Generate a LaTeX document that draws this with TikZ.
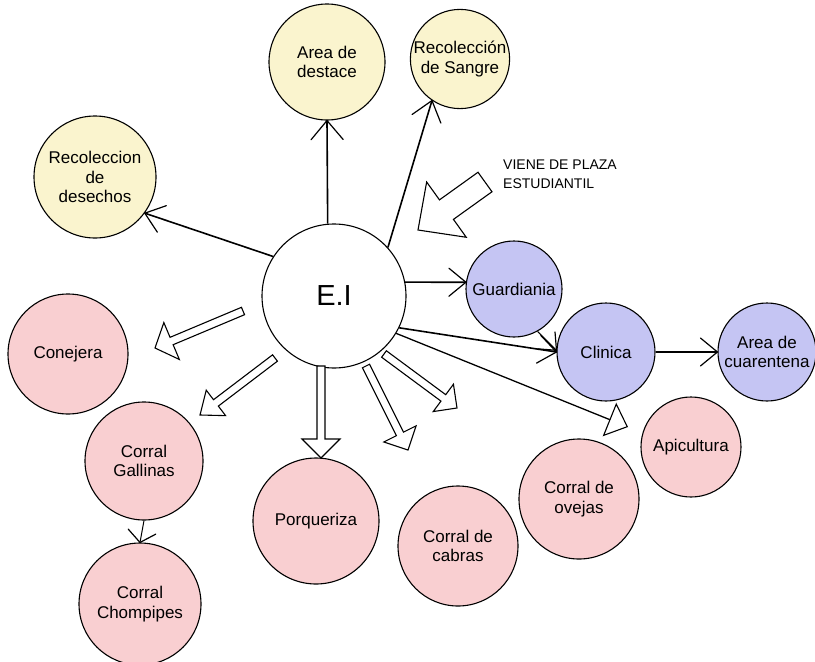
\documentclass[tikz,border=0pt]{standalone}
\usepackage{fontspec}
\setmainfont{Liberation Sans}
\usetikzlibrary{arrows.meta,calc}
\definecolor{ylw}{HTML}{FAF4CE}
\definecolor{blu}{HTML}{C5C5F3}
\definecolor{pnk}{HTML}{F9CFD1}
\tikzset{
  circ/.style={circle, draw=black, line width=1.1pt, inner sep=0pt, align=center,
    font=\fontsize{17}{19.5}\selectfont},
  yl/.style={circ, fill=ylw},
  bl/.style={circ, fill=blu},
  pk/.style={circ, fill=pnk},
  conn/.style={line width=1.6pt},
  thinconn/.style={line width=1pt},
  barbline/.style={line width=1.2pt, line cap=round},
  harrow/.style={line width=1.1pt, line join=miter, fill=white},
}
\newcommand{\barbarr}[5]{% #1 style, #2 from, #3 to, #4 barb length, #5 barb half width
  \draw[#1] (#2) -- (#3);
  \coordinate (bc) at ($(#3)!#4!(#2)$);
  \draw[barbline] ($(bc)!#5!90:(#3)$) -- (#3) -- ($(bc)!#5!-90:(#3)$);}
\newcommand{\hollowarr}[5]{% #1 shaft half, #2 head half, #3 head length, #4 tail, #5 tip
  \coordinate (hc) at ($(#5)!#3!(#4)$);
  \draw[harrow] ($(#4)!#1!90:(#5)$) -- ($(hc)!#1!-90:(#4)$) -- ($(hc)!#2!-90:(#4)$) -- (#5)
    -- ($(hc)!#2!90:(#4)$) -- ($(hc)!#1!90:(#4)$) -- ($(#4)!#1!-90:(#5)$) -- cycle;}
\begin{document}
\begin{tikzpicture}[x=1pt,y=-1pt]
\path[use as bounding box, fill=white] (0,0) rectangle (815,662);
% nodes
\node[yl, minimum size=116pt] (destace) at (327,62) {Area de\\destace};
\node[yl, minimum size=92pt] (sangre) at (460,59) {Recolección\\de Sangre};
\node[yl, minimum size=122pt] (desechos) at (95,177) {Recoleccion\\de\\desechos};
\node[circ, fill=white, minimum size=144pt, font=\fontsize{29}{32}\selectfont] (EI) at (334,296) {E.I};
\node[bl, minimum size=96pt] (guard) at (514,289) {Guardiania};
\node[bl, minimum size=98pt] (clin) at (606,352) {Clinica};
\node[bl, minimum size=98pt] (cuar) at (767,352) {Area de\\cuarentena};
\node[pk, minimum size=120pt] (conej) at (68,354) {Conejera};
\node[pk, minimum size=118pt] (gall) at (144,461) {Corral\\Gallinas};
\node[pk, minimum size=122pt] (chomp) at (140,604) {Corral\\Chompipes};
\node[pk, minimum size=126pt] (porq) at (316,521) {Porqueriza};
\node[pk, minimum size=120pt] (cabras) at (458,546) {Corral de\\cabras};
\node[pk, minimum size=120pt] (ovejas) at (579,499) {Corral de\\ovejas};
\node[pk, minimum size=100pt] (apic) at (691,447) {Apicultura};
\node[anchor=west, align=left, inner sep=0pt, font=\fontsize{14}{18.5}\selectfont] (viene) at (503,174) {VIENE DE PLAZA\\ESTUDIANTIL};
% thin connectors with open barbs
\barbarr{conn}{EI.95}{destace.270}{19pt}{16pt}
\barbarr{conn}{EI.42}{sangre.236}{19pt}{15pt}
\barbarr{conn}{EI.147}{desechos.-36}{18pt}{14pt}
\barbarr{conn}{EI.11}{guard.172}{17pt}{14pt}
\barbarr{conn}{EI.-26}{clin.180}{18pt}{14pt}
\barbarr{thinconn}{guard.-61}{clin.178}{14pt}{12pt}
\barbarr{conn}{clin.0}{cuar.180}{17pt}{14pt}
\barbarr{thinconn}{gall.south}{chomp.north}{11pt}{14pt}
\coordinate (ovtip) at (628,427);
\draw[line width=1.3pt, -{Triangle[open,length=20pt,width=36pt,line width=1.1pt]}] (EI.-31) -- (ovtip);
% hollow arrows
\coordinate (t1) at (243,311); \coordinate (h1) at (155,348);
\hollowarr{4pt}{20pt}{18pt}{t1}{h1}
\coordinate (t2) at (275,358); \coordinate (h2) at (200,415);
\hollowarr{4pt}{16pt}{20pt}{t2}{h2}
\coordinate (t3) at (321,366); \coordinate (h3) at (321,458);
\hollowarr{4pt}{19pt}{19pt}{t3}{h3}
\coordinate (t4) at (366,366); \coordinate (h4) at (408,450);
\hollowarr{4pt}{18pt}{18pt}{t4}{h4}
\coordinate (t5) at (384,354); \coordinate (h5) at (457,408);
\hollowarr{4pt}{17pt}{17pt}{t5}{h5}
\coordinate (t6) at (485,182); \coordinate (h6) at (418,230);
\hollowarr{12pt}{34pt}{35pt}{t6}{h6}
\end{tikzpicture}
\end{document}
